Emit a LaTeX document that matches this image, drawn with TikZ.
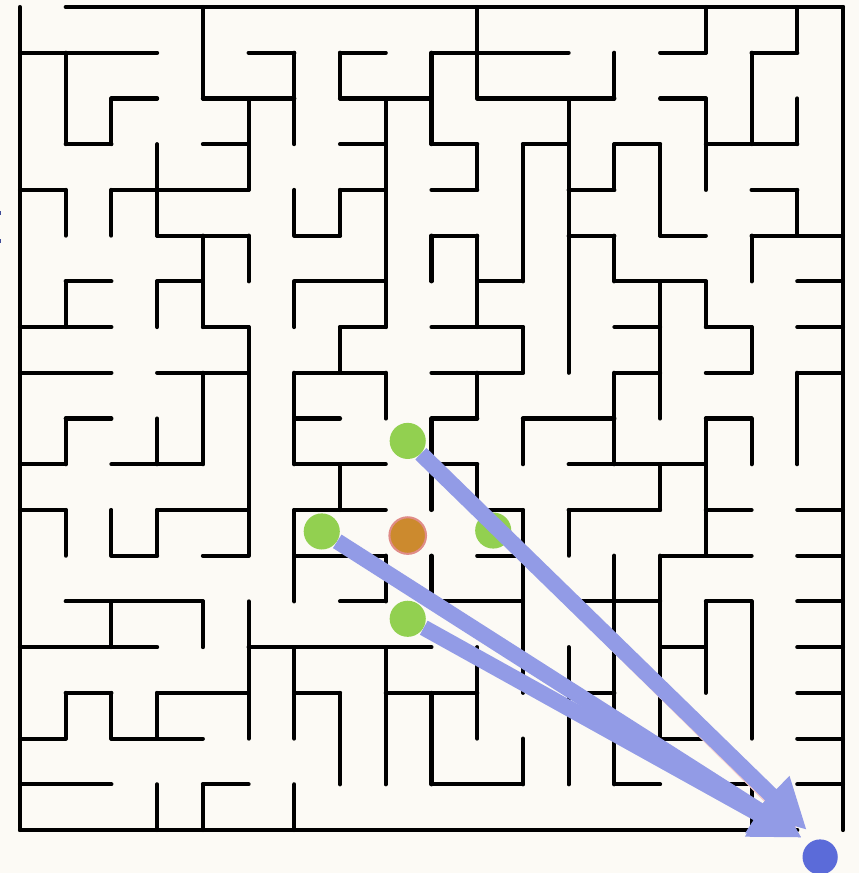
\documentclass[tikz,border=0pt]{standalone}
\usetikzlibrary{arrows.meta}
\definecolor{bgcream}{RGB}{252,250,245}
\definecolor{pathgreen}{RGB}{146,208,80}
\definecolor{curorange}{RGB}{204,138,46}
\definecolor{curedge}{RGB}{224,140,136}
\definecolor{flowblue}{RGB}{146,155,230}
\definecolor{goalblue}{RGB}{91,107,217}
\definecolor{trailpink}{RGB}{245,204,204}
\begin{document}
\begin{tikzpicture}[x=1cm, y=-1cm,
    wall/.style={line width=0.09cm, line cap=round, line join=round},
    nb/.style={circle, fill=pathgreen, inner sep=0pt, minimum size=0.79cm},
    flow/.style={draw=flowblue, line width=0.35cm, -{Triangle[length=1.1cm, width=1.08cm]}}]
        \path[use as bounding box, fill=bgcream] (-0.437,-0.153) rectangle (18.351,18.94);
        % horizontal walls, row by row
        \draw[wall] (1,0)--(18,0);
        \draw[wall] (0,1)--(3,1) (5,1)--(6,1) (7,1)--(8,1) (9,1)--(12,1) (14,1)--(15,1) (16,1)--(17,1);
        \draw[wall] (2,2)--(3,2) (4,2)--(6,2) (7,2)--(9,2) (10,2)--(13,2) (14,2)--(15,2);
        \draw[wall] (1,3)--(2,3) (4,3)--(5,3) (7,3)--(8,3) (9,3)--(10,3) (11,3)--(12,3) (13,3)--(14,3) (15,3)--(17,3);
        \draw[wall] (0,4)--(1,4) (2,4)--(5,4) (7,4)--(8,4) (9,4)--(10,4) (12,4)--(13,4) (16,4)--(17,4);
        \draw[wall] (3,5)--(5,5) (6,5)--(7,5) (9,5)--(10,5) (12,5)--(13,5) (14,5)--(15,5) (16,5)--(18,5);
        \draw[wall] (1,6)--(2,6) (3,6)--(4,6) (6,6)--(8,6) (10,6)--(11,6) (13,6)--(15,6) (17,6)--(18,6);
        \draw[wall] (0,7)--(2,7) (4,7)--(5,7) (7,7)--(8,7) (9,7)--(11,7) (13,7)--(14,7) (15,7)--(16,7) (17,7)--(18,7);
        \draw[wall] (0,8)--(2,8) (3,8)--(5,8) (6,8)--(8,8) (9,8)--(11,8) (13,8)--(14,8) (15,8)--(16,8) (17,8)--(18,8);
        \draw[wall] (1,9)--(2,9) (6,9)--(7,9) (9,9)--(10,9) (11,9)--(13,9) (15,9)--(16,9);
        \draw[wall] (0,10)--(1,10) (2,10)--(4,10) (6,10)--(8,10) (9,10)--(10,10) (12,10)--(15,10);
        \draw[wall] (0,11)--(1,11) (3,11)--(5,11) (6,11)--(8,11) (10,11)--(11,11) (12,11)--(14,11) (15,11)--(16,11) (17,11)--(18,11);
        \draw[wall] (2,12)--(3,12) (4,12)--(5,12) (6,12)--(8,12) (10,12)--(11,12) (14,12)--(16,12) (17,12)--(18,12);
        \draw[wall] (1,13)--(4,13) (7,13)--(8,13) (9,13)--(11,13) (12,13)--(14,13) (15,13)--(16,13) (17,13)--(18,13);
        \draw[wall] (0,14)--(3,14) (5,14)--(9,14) (14,14)--(15,14) (17,14)--(18,14);
        \draw[wall] (1,15)--(2,15) (3,15)--(5,15) (6,15)--(7,15) (8,15)--(10,15) (12,15)--(13,15) (17,15)--(18,15);
        \draw[wall] (0,16)--(1,16) (2,16)--(4,16) (14,16)--(15,16) (17,16)--(18,16);
        \draw[wall] (0,17)--(2,17) (4,17)--(5,17) (9,17)--(11,17) (13,17)--(14,17) (15,17)--(16,17) (17,17)--(18,17);
        \draw[wall] (0,18)--(17,18);
        % vertical walls, column by column
        \draw[wall] (0,0)--(0,18);
        \draw[wall] (1,1)--(1,3) (1,4)--(1,5) (1,6)--(1,7) (1,9)--(1,10) (1,11)--(1,12) (1,15)--(1,16);
        \draw[wall] (2,2)--(2,3) (2,4)--(2,5) (2,11)--(2,12) (2,13)--(2,14) (2,15)--(2,16);
        \draw[wall] (3,3)--(3,5) (3,6)--(3,7) (3,9)--(3,10) (3,11)--(3,12) (3,15)--(3,16) (3,17)--(3,18);
        \draw[wall] (4,0)--(4,2) (4,5)--(4,7) (4,8)--(4,10) (4,13)--(4,14) (4,17)--(4,18);
        \draw[wall] (5,2)--(5,4) (5,5)--(5,6) (5,7)--(5,12) (5,13)--(5,16);
        \draw[wall] (6,1)--(6,3) (6,4)--(6,5) (6,6)--(6,7) (6,8)--(6,10) (6,11)--(6,13) (6,14)--(6,16) (6,17)--(6,18);
        \draw[wall] (7,1)--(7,2) (7,4)--(7,5) (7,7)--(7,8) (7,10)--(7,11) (7,15)--(7,17);
        \draw[wall] (8,2)--(8,7) (8,8)--(8,9) (8,12)--(8,13) (8,14)--(8,17);
        \draw[wall] (9,1)--(9,3) (9,5)--(9,6) (9,9)--(9,11) (9,12)--(9,13) (9,15)--(9,17);
        \draw[wall] (10,0)--(10,2) (10,3)--(10,4) (10,5)--(10,7) (10,8)--(10,9) (10,10)--(10,11) (10,14)--(10,16);
        \draw[wall] (11,3)--(11,6) (11,7)--(11,8) (11,9)--(11,10) (11,11)--(11,15) (11,16)--(11,17);
        \draw[wall] (12,2)--(12,8) (12,11)--(12,12) (12,14)--(12,17);
        \draw[wall] (13,1)--(13,2) (13,3)--(13,4) (13,5)--(13,6) (13,8)--(13,10) (13,12)--(13,17);
        \draw[wall] (14,3)--(14,5) (14,6)--(14,9) (14,10)--(14,11) (14,12)--(14,16);
        \draw[wall] (15,0)--(15,1) (15,2)--(15,4) (15,6)--(15,7) (15,9)--(15,12) (15,13)--(15,15);
        \draw[wall] (16,1)--(16,3) (16,5)--(16,6) (16,7)--(16,8) (16,9)--(16,10) (16,13)--(16,16) (16,17)--(16,18);
        \draw[wall] (17,0)--(17,1) (17,2)--(17,3) (17,4)--(17,5) (17,8)--(17,10);
        \draw[wall] (18,0)--(18,18);
        % stray marks on the left edge
        \fill[goalblue!70!black] (-0.437,4.47) rectangle (-0.41,4.55);
        \fill[goalblue!70!black] (-0.437,5.08) rectangle (-0.41,5.16);
        % end points of the arrows
        \coordinate (tipA) at (17.21,18.00);
        \coordinate (tipB) at (17.10,18.17);
        \coordinate (tipP) at (16.95,17.97);
        \node[nb] (gE) at (10.35,11.45) {};
        \draw[trailpink, line width=0.1cm] (gE) -- (tipP);
        \node[nb] (gN) at (8.48,9.49) {};
        \node[nb] (gW) at (6.60,11.47) {};
        \node[nb] (gS) at (8.48,13.38) {};
        \node[circle, fill=curorange, draw=curedge, line width=0.045cm, inner sep=0pt, minimum size=0.8cm] (cur) at (8.48,11.56) {};
        \draw[flow] (gN) -- (tipA);
        \draw[flow] (gW) -- (tipB);
        \draw[flow] (gS) -- (tipB);
        \node[circle, fill=goalblue, inner sep=0pt, minimum size=0.77cm] (goal) at (17.50,18.59) {};
    \end{tikzpicture}
\end{document}
